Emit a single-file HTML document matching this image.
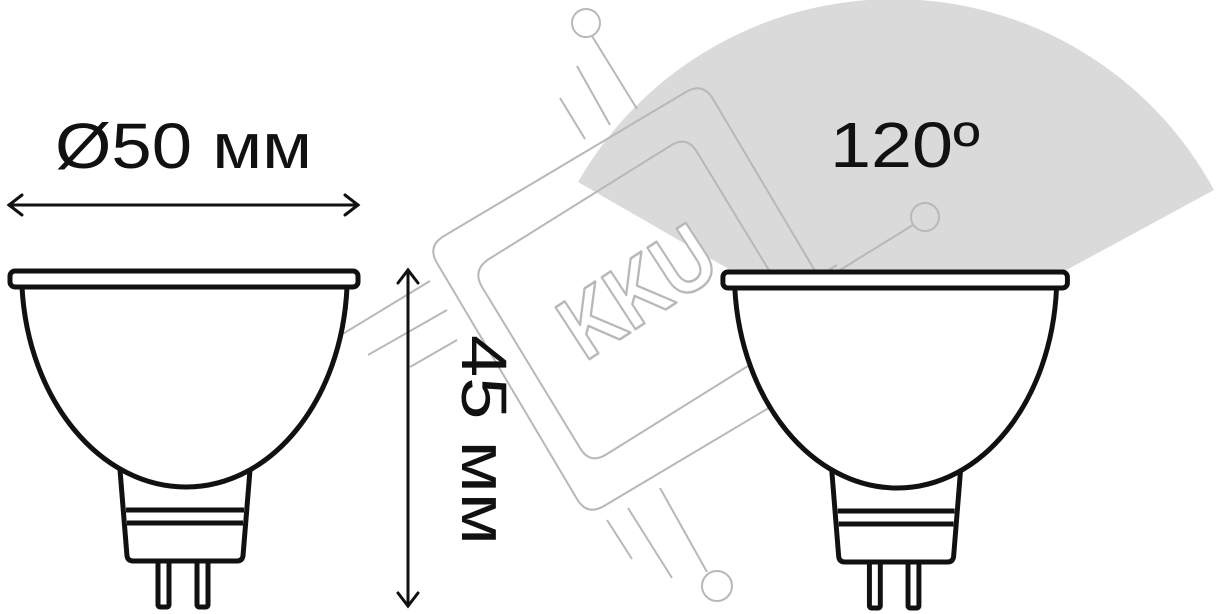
<!DOCTYPE html>
<html><head><meta charset="utf-8"><style>
html,body{margin:0;padding:0;background:#fff;}
svg{display:block;}
</style></head><body>
<svg width="1222" height="614" viewBox="0 0 1222 614" xmlns="http://www.w3.org/2000/svg">
<defs><clipPath id="c"><rect x="0" y="0" width="1222" height="276"/></clipPath></defs>
<path d="M893,364 L578,182 A364,364 0 0 1 1214,190 Z" fill="#dadada" clip-path="url(#c)"/>

<g fill="none" stroke="#b8b8b8" stroke-width="2" stroke-linejoin="round">
<path d="M444,236 L686,92 Q703,82 713,99 L853,335 Q863,352 846,362 L604,506 Q587,516 577,499 L437,263 Q427,246 444,236 Z"/>
<path d="M489,259 L670,146 Q687,135 697,152 L795,313 Q805,330 788,341 L607,454 Q590,465 580,448 L482,287 Q472,270 489,259 Z"/>
<circle cx="586" cy="23" r="14"/>
<line x1="592" y1="36" x2="637" y2="109"/>
<line x1="577" y1="66" x2="610" y2="125"/>
<line x1="560" y1="98" x2="585" y2="139"/>
<circle cx="294" cy="363" r="15"/>
<line x1="308" y1="355" x2="430" y2="281"/>
<line x1="368" y1="355" x2="447" y2="310"/>
<line x1="410" y1="367" x2="457" y2="340"/>
<line x1="607" y1="520" x2="632" y2="559"/>
<line x1="628" y1="508" x2="672" y2="578"/>
<line x1="660" y1="488" x2="707" y2="572"/>
<circle cx="717" cy="586" r="15"/>
<circle cx="925" cy="217" r="14"/>
<line x1="913" y1="225" x2="840" y2="270"/>
<line x1="837" y1="265" x2="787" y2="295"/>
<text x="0" y="0" transform="translate(585,362) rotate(-33)" font-family="Liberation Sans, sans-serif" font-weight="bold" font-size="90" fill="#fff" stroke="#b8b8b8" stroke-width="2.5" textLength="165" lengthAdjust="spacingAndGlyphs">KKU</text>
</g>

<text x="55" y="168" font-family="Liberation Sans, sans-serif" font-size="64" fill="#111" textLength="257" lengthAdjust="spacingAndGlyphs">Ø50 мм</text>
<text x="830" y="167" font-family="Liberation Sans, sans-serif" font-size="64" fill="#111" textLength="150" lengthAdjust="spacingAndGlyphs">120º</text>
<text transform="translate(462,335) rotate(90)" font-family="Liberation Sans, sans-serif" font-size="64" fill="#111" textLength="210" lengthAdjust="spacingAndGlyphs">45 мм</text>

<g stroke="#111" stroke-width="3" fill="none" stroke-linecap="round">
<line x1="9" y1="205" x2="358" y2="205"/>
<polyline points="22,195 9,205 22,215"/>
<polyline points="345,195 358,205 345,215"/>
<line x1="408" y1="270" x2="408" y2="606"/>
<polyline points="398,283 408,270 418,283"/>
<polyline points="398,593 408,606 418,593"/>
</g>

<g id="b" stroke="#111" stroke-width="5" fill="#fff" stroke-linejoin="round">
<path d="M120,470 L127,556 Q128,561 133,561 L237,561 Q242,561 243,556 L250,470"/>
<line x1="126" y1="510" x2="244" y2="510"/>
<line x1="127" y1="523" x2="243" y2="523"/>
<rect x="158" y="561" width="11" height="46" rx="2"/>
<rect x="197" y="561" width="11" height="46" rx="2"/>
<path d="M22,287 C28,400 100,487 186,487 C272,487 342,400 347,287"/>
<rect x="10" y="271" width="348" height="16" rx="5"/>
</g>
<use href="#b" transform="translate(713,1) scale(0.99,1)"/>
</svg>
</body></html>
